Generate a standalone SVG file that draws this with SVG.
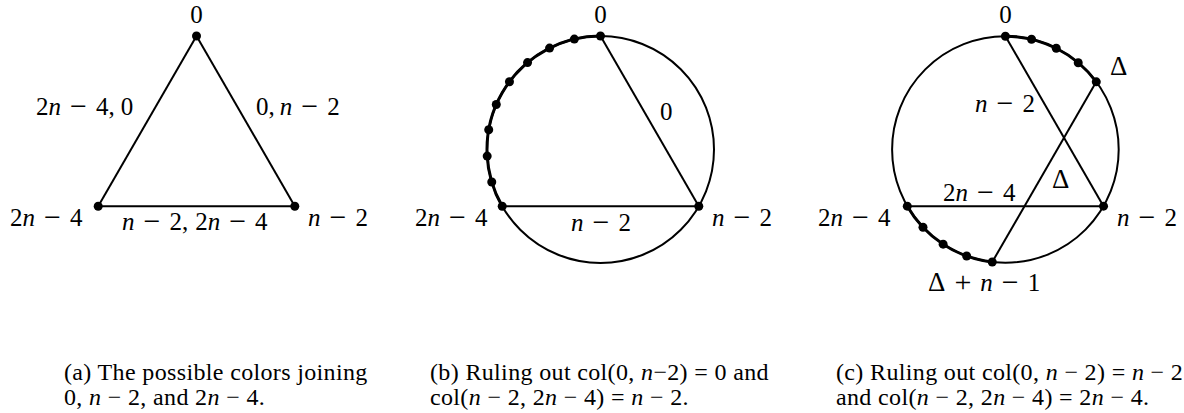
<svg xmlns="http://www.w3.org/2000/svg" width="1184" height="413" viewBox="0 0 1184 413">
<style>
.bg{fill:#fff}
.e{stroke:#000;stroke-width:2;fill:none}
.arc{stroke:#000;stroke-width:2;fill:none}
.thick{stroke:#000;stroke-width:3;fill:none}
.v{fill:#000}
text{font-family:"Liberation Serif","Times New Roman",serif;fill:#000}
.m{font-size:25px}
.op{font-size:30px}
.d{font-size:27px}
.c{font-size:24px;letter-spacing:0.35px}
.i{font-style:italic}
.mid{text-anchor:middle}
</style>
<rect class="bg" x="0" y="0" width="1184" height="413"/>
<g id="connectors">
  <line class="e" x1="196.5" y1="36" x2="98.2" y2="206.25"/>
  <line class="e" x1="196.5" y1="36" x2="294.8" y2="206.25"/>
  <line class="e" x1="98.2" y1="206.25" x2="294.8" y2="206.25"/>
  <circle class="arc" cx="600.5" cy="149.5" r="113.5"/>
  <path class="thick" d="M600.5,36 A113.5,113.5 0 0 0 502.21,206.25"/>
  <line class="e" x1="600.5" y1="36" x2="698.79" y2="206.25"/>
  <line class="e" x1="502.21" y1="206.25" x2="698.79" y2="206.25"/>
  <circle class="arc" cx="1005.4" cy="149.5" r="113.3"/>
  <path class="thick" d="M1005.4,36.2 A113.3,113.3 0 0 1 1096.28,81.84"/>
  <path class="thick" d="M992.25,262.03 A113.3,113.3 0 0 1 907.28,206.15"/>
  <line class="e" x1="1005.4" y1="36.2" x2="1103.52" y2="206.15"/>
  <line class="e" x1="1096.28" y1="81.84" x2="992.25" y2="262.03"/>
  <line class="e" x1="907.28" y1="206.15" x2="1103.52" y2="206.15"/>
</g>
<g id="edge-labels">
  <text class="m" x="36" y="115">2<tspan class="i">n</tspan><tspan class="op" dx="9" dy="1">−</tspan><tspan dx="9" dy="-1">4,</tspan><tspan dx="6">0</tspan></text>
  <text class="m" x="256" y="115">0,<tspan dx="5" class="i">n</tspan><tspan class="op" dx="9" dy="1">−</tspan><tspan dx="9" dy="-1">2</tspan></text>
  <text class="m" x="122" y="230"><tspan class="i">n</tspan><tspan class="op" dx="9" dy="1">−</tspan><tspan dx="9" dy="-1">2,</tspan><tspan dx="7">2</tspan><tspan class="i">n</tspan><tspan class="op" dx="9" dy="1">−</tspan><tspan dx="9" dy="-1">4</tspan></text>
  <text class="m" x="660" y="120">0</text>
  <text class="m" x="571" y="231"><tspan class="i">n</tspan><tspan class="op" dx="9" dy="1">−</tspan><tspan dx="9" dy="-1">2</tspan></text>
  <text class="m" x="975" y="112"><tspan class="i">n</tspan><tspan class="op" dx="9" dy="1">−</tspan><tspan dx="9" dy="-1">2</tspan></text>
  <text class="d" x="1052" y="188">Δ</text>
  <text class="m" x="943" y="201">2<tspan class="i">n</tspan><tspan class="op" dx="9" dy="1">−</tspan><tspan dx="9" dy="-1">4</tspan></text>
</g>
<g id="node-a0"><circle class="v" cx="196.5" cy="36" r="4.5"/><text class="m mid" x="196.5" y="23">0</text></g>
<g id="node-a1"><circle class="v" cx="294.8" cy="206.25" r="4.5"/><text class="m" x="308" y="226"><tspan class="i">n</tspan><tspan class="op" dx="9" dy="1">−</tspan><tspan dx="9" dy="-1">2</tspan></text></g>
<g id="node-a2"><circle class="v" cx="98.2" cy="206.25" r="4.5"/><text class="m" x="10" y="226">2<tspan class="i">n</tspan><tspan class="op" dx="9" dy="1">−</tspan><tspan dx="9" dy="-1">4</tspan></text></g>
<g id="node-b0"><circle class="v" cx="600.5" cy="36" r="4.5"/><text class="m mid" x="600.5" y="23">0</text></g>
<g id="node-b1"><circle class="v" cx="698.79" cy="206.25" r="4.5"/><text class="m" x="712" y="226"><tspan class="i">n</tspan><tspan class="op" dx="9" dy="1">−</tspan><tspan dx="9" dy="-1">2</tspan></text></g>
<g id="node-b2"><circle class="v" cx="502.21" cy="206.25" r="4.5"/><text class="m" x="415" y="226">2<tspan class="i">n</tspan><tspan class="op" dx="9" dy="1">−</tspan><tspan dx="9" dy="-1">4</tspan></text></g>
<g id="node-b-dots">
  <circle class="v" cx="574.33" cy="39.06" r="4.5"/>
  <circle class="v" cx="549.56" cy="48.08" r="4.5"/>
  <circle class="v" cx="527.54" cy="62.56" r="4.5"/>
  <circle class="v" cx="509.46" cy="81.72" r="4.5"/>
  <circle class="v" cx="496.27" cy="104.54" r="4.5"/>
  <circle class="v" cx="488.72" cy="129.79" r="4.5"/>
  <circle class="v" cx="487.19" cy="156.09" r="4.5"/>
  <circle class="v" cx="491.77" cy="182.05" r="4.5"/>
</g>
<g id="node-c0"><circle class="v" cx="1005.4" cy="36.2" r="4.5"/><text class="m mid" x="1005.4" y="23">0</text></g>
<g id="node-c-delta"><circle class="v" cx="1096.28" cy="81.84" r="4.5"/><text class="d" x="1110" y="75">Δ</text></g>
<g id="node-c1"><circle class="v" cx="1103.52" cy="206.15" r="4.5"/><text class="m" x="1117" y="226"><tspan class="i">n</tspan><tspan class="op" dx="9" dy="1">−</tspan><tspan dx="9" dy="-1">2</tspan></text></g>
<g id="node-c-deltan"><circle class="v" cx="992.25" cy="262.03" r="4.5"/><text class="m" x="928" y="291"><tspan class="d">Δ</tspan><tspan class="op" dx="9" dy="1">+</tspan><tspan dx="9" dy="-1" class="i">n</tspan><tspan class="op" dx="9" dy="1">−</tspan><tspan dx="9" dy="-1">1</tspan></text></g>
<g id="node-c2"><circle class="v" cx="907.28" cy="206.15" r="4.5"/><text class="m" x="818" y="226">2<tspan class="i">n</tspan><tspan class="op" dx="9" dy="1">−</tspan><tspan dx="9" dy="-1">4</tspan></text></g>
<g id="node-c-dots">
  <circle class="v" cx="1031.53" cy="39.26" r="4.5"/>
  <circle class="v" cx="1056.25" cy="48.26" r="4.5"/>
  <circle class="v" cx="1078.23" cy="62.71" r="4.5"/>
  <circle class="v" cx="966.65" cy="255.97" r="4.5"/>
  <circle class="v" cx="943.14" cy="244.16" r="4.5"/>
  <circle class="v" cx="922.99" cy="227.25" r="4.5"/>
</g>
<g id="captions">
  <text class="c" x="64" y="380">(a) The possible colors joining</text>
  <text class="c" x="64" y="405">0, <tspan class="i">n</tspan> − 2, and 2<tspan class="i">n</tspan> − 4.</text>
  <text class="c" x="430" y="380">(b) Ruling out col(0, <tspan class="i">n</tspan>−2) = 0 and</text>
  <text class="c" x="430" y="405">col(<tspan class="i">n</tspan> − 2, 2<tspan class="i">n</tspan> − 4) = <tspan class="i">n</tspan> − 2.</text>
  <text class="c" x="836" y="380">(c) Ruling out col(0, <tspan class="i">n</tspan> − 2) = <tspan class="i">n</tspan> − 2</text>
  <text class="c" x="836" y="405">and col(<tspan class="i">n</tspan> − 2, 2<tspan class="i">n</tspan> − 4) = 2<tspan class="i">n</tspan> − 4.</text>
</g>
</svg>
